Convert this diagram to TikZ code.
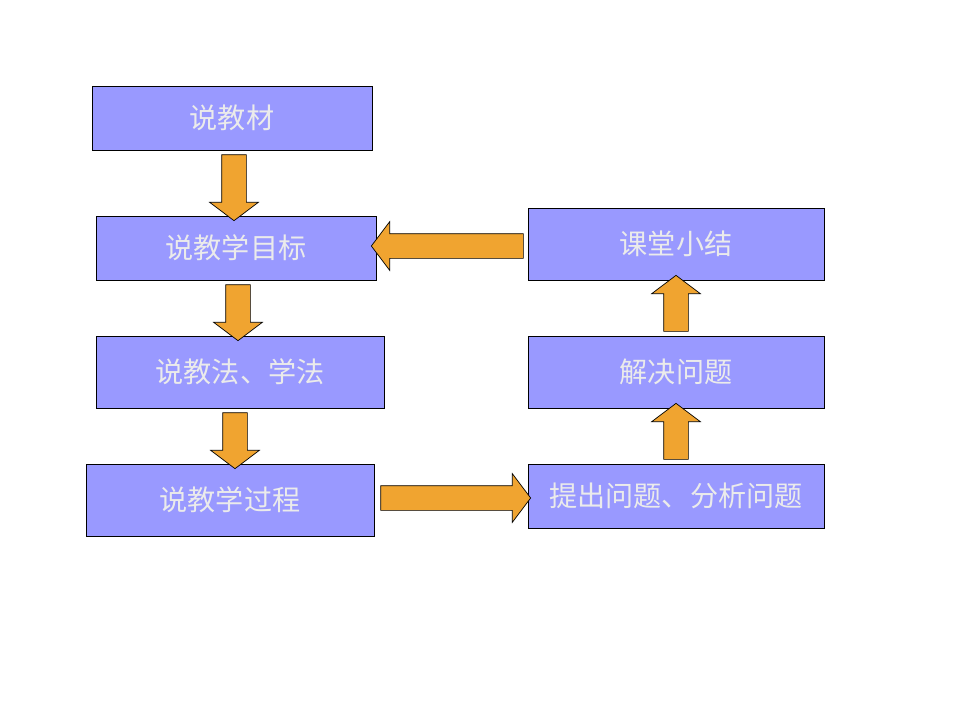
\documentclass[tikz,border=0pt]{standalone}
\usepackage{fontspec}
\setmainfont{Noto Sans CJK SC}
\usetikzlibrary{shapes,arrows,calc}
\definecolor{boxblue}{HTML}{9999FF}
\definecolor{arroworange}{HTML}{F0A430}
\tikzset{%
  % Specifications for style of nodes:
   stage/.style = {rectangle, draw=black, fill=boxblue, line width=0.5pt,
                    minimum height=1.6cm, font=\fontsize{20}{22}\selectfont,
                    text=white!92!black},
  bigarrow/.style = {single arrow, draw=black, fill=arroworange, line width=0.5pt,
                    inner xsep=0pt, inner ysep=0.3cm, single arrow head extend=0.3cm,
                    single arrow tip angle=106},
}
\begin{document}
\begin{tikzpicture}
\useasboundingbox (0,0) rectangle (24,-18);
  % Specification of nodes (position, etc.)
\node (material) at (5.8,-2.95)  [stage, minimum width=7cm]   {说教材};
\node (goal)     at (5.9,-6.2)   [stage, minimum width=7cm]   {说教学目标};
\node (method)   at (6.0,-9.3)   [stage, minimum width=7.2cm, minimum height=1.8cm] {说教法、学法};
\node (process)  at (5.75,-12.5) [stage, minimum width=7.2cm, minimum height=1.8cm] {说教学过程};
\node (raise)    at (16.9,-12.4) [stage, minimum width=7.4cm] {提出问题、分析问题};
\node (solve)    at (16.9,-9.3)  [stage, minimum width=7.4cm, minimum height=1.8cm] {解决问题};
\node (summary)  at (16.9,-6.1)  [stage, minimum width=7.4cm, minimum height=1.8cm] {课堂小结};

% block arrows between the stages
\node (a1) at ($(material.south)!0.5!(goal.north)$)  [bigarrow, rotate=-90, minimum height=1.65cm] {};
\node (a2) at ($(goal.south)!0.5!(method.north)$)    [bigarrow, rotate=-90, minimum height=1.4cm] {};
\node (a3) at ($(method.south)!0.5!(process.north)$) [bigarrow, rotate=-90, minimum height=1.4cm] {};
\node (a4) at ($(process.east)!0.5!(raise.west)$)    [bigarrow, minimum height=3.75cm] {};
\node (a5) at ($(raise.north)!0.5!(solve.south)$)    [bigarrow, rotate=90, minimum height=1.4cm] {};
\node (a6) at ($(solve.north)!0.5!(summary.south)$)  [bigarrow, rotate=90, minimum height=1.4cm] {};
\node (a7) at ($(summary.west)!0.5!(goal.east)$)     [bigarrow, rotate=180, minimum height=3.8cm] {};
\end{tikzpicture}
\end{document}
